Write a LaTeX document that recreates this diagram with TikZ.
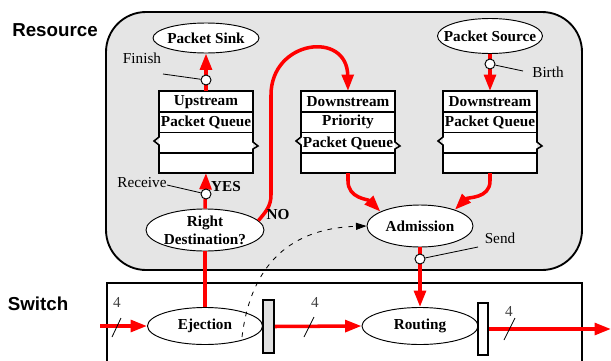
\documentclass[tikz,border=0pt]{standalone}
\usepackage{fontspec}
\setmainfont{Liberation Serif}
\newfontfamily\partfont{Liberation Sans}
\usepackage{tikz}
\usetikzlibrary{shapes.geometric,arrows.meta}

% packet queue: name, x centre, row 1, row 2, row 3
\newcommand{\pktqueue}[5]{%
  \node[qframe] (#1) at (#2,132) {};
  \draw[qline, fill=white] (#2-47,91) rectangle (#2+47,133);
  \draw[qline] (#2-47,112) -- (#2+47,112);
  \fill[white] (#2-47,133) rectangle (#2+47,153);
  \draw[qline] (#2-47,133) -- (#2-47,137) -- (#2-52,141) -- (#2-47,145) -- (#2-47,153);
  \draw[qline] (#2+47,133) -- (#2+47,142) -- (#2+52,146) -- (#2+47,149) -- (#2+47,153);
  \draw[qline, fill=white] (#2-47,153) rectangle (#2+47,173);
  \node[qtext] (#1a) at (#2,102) {#3};
  \node[qtext] (#1b) at (#2,122) {#4};
  \node[qtext] (#1c) at (#2,143) {#5};
}

\begin{document}
\begin{tikzpicture}[x=0.03cm, y=-0.03cm,
    every node/.style={font=\fontsize{13}{15.5}\selectfont, align=center},
    oval/.style={ellipse, draw, fill=white, line width=0.8pt, inner sep=0pt},
    otext/.style={font=\fontsize{13}{15.5}\selectfont\bfseries, align=center, inner sep=0pt},
    qframe/.style={rectangle, minimum width=2.82cm, minimum height=2.46cm,
                   inner sep=0pt, outer sep=0pt},
    qline/.style={line width=1.3pt},
    qtext/.style={font=\fontsize{13}{15.5}\selectfont\bfseries, inner sep=0pt},
    port/.style={circle, draw, fill=white, line width=0.8pt, minimum size=0.3cm, inner sep=0pt},
    gate/.style={rectangle, draw, line width=1.5pt, inner sep=0pt},
    part/.style={font=\partfont\bfseries\fontsize{16}{19}\selectfont},
    num/.style={text=black!75, inner sep=0pt},
    flow/.style={red, line width=3pt, -{Triangle[length=14pt,width=10pt]}},
    wire/.style={red, line width=3pt},
    hint/.style={line width=0.7pt},
    cue/.style={line width=0.7pt, dash pattern=on 4pt off 5pt,
                -{Triangle[length=9pt,width=6pt]}}
]
\useasboundingbox (0,0) rectangle (611,360);

% frames
\draw[line width=1.6pt, fill=black!10, rounded corners=1.2cm] (106,12) rectangle (582,270);
\draw[line width=2pt] (107,283) rectangle (582,400);
\node[part] (res) at (55,30) {Resource};
\node[part] (sw) at (38,304) {Switch};

% resource side
\node[oval, minimum width=3.18cm, minimum height=0.9cm,
      label={[otext]center:Packet Sink}] (sink) at (206,38) {};
\node[oval, minimum width=3.15cm, minimum height=1.05cm,
      label={[otext]center:Packet Source}] (src) at (490,36) {};
\pktqueue{upq}{206}{Upstream}{Packet Queue}{}
\pktqueue{qpri}{348}{Downstream}{Priority}{Packet Queue}
\pktqueue{dnq}{490}{Downstream}{Packet Queue}{}
\node[oval, minimum width=3.54cm, minimum height=1.26cm,
      label={[otext]center:Right\\Destination?}] (rd) at (205,230) {};
\node[oval, minimum width=3.18cm, minimum height=1.26cm,
      label={[otext]center:Admission}] (adm) at (420,226) {};

% switch side
\node[oval, minimum width=3.45cm, minimum height=1.11cm,
      label={[otext]center:Ejection}] (ej) at (205,326) {};
\node[oval, minimum width=3.48cm, minimum height=1.11cm,
      label={[otext]center:Routing}] (rt) at (420,326) {};
\node[gate, fill=black!12, minimum width=0.33cm, minimum height=1.59cm] (bar1) at (268.5,326.5) {};
\node[gate, fill=white, minimum width=0.3cm, minimum height=1.56cm] (bar2) at (483,329) {};
\coordinate (inp) at (100,326);
\coordinate (outp) at (611,329);

% packet flows
\draw[flow] (upq.north) -- (sink.south);
\draw[flow] (src.south) -- (dnq.north);
\draw[flow] (rd.north) -- (upq.south);
\draw[flow] (rd.10) to[out=50,in=-90] (271,195) -- (271,95)
    .. controls (271,40) and (347,30) .. (qpri.north);
\draw[flow] (qpri.south) -- ++(0,8) to[out=-90,in=135] (adm.160);
\draw[flow] (dnq.south) -- ++(0,8) to[out=-90,in=45] (adm.25);
\draw[flow] (adm.south) -- (rt.north);
\draw[wire] (rd.south) -- (ej.north);
\draw[flow] (inp) -- (ej.west);
\draw[flow] (bar1.east) -- (rt.west);
\draw[flow] (bar2.east) -- (outp);

% hint from ejection to admission
\coordinate (dst) at (242,337);
\draw[cue] (dst) .. controls (252,255) and (300,228) .. (adm.west);

% event ports
\node[port] (fin) at (206,80) {};
\node[port] (rcv) at (206,194) {};
\node[port] (birth) at (490,64) {};
\node[port] (snd) at (420,259) {};
\coordinate (finc) at (163,74);
\coordinate (rcvc) at (167,185);
\coordinate (birthc) at (523,71);
\coordinate (sndc) at (478,247);
\draw[hint] (fin) -- (finc);
\draw[hint] (rcv) -- (rcvc);
\draw[hint] (birth) -- (birthc);
\draw[hint] (snd) -- (sndc);
\node (lfin) at (142,58) {Finish};
\node (lrcv) at (142,183) {Receive};
\node (lbirth) at (548,72) {Birth};
\node (lsnd) at (500,238) {Send};
\node[otext] (lyes) at (226,187) {YES};
\node[otext] (lno) at (278,215) {NO};

% link widths
\draw[hint] (112,337) -- (121,318);
\draw[hint] (304,337) -- (314,317);
\draw[hint] (504,340) -- (515,318);
\node[num] (w1) at (117,302) {4};
\node[num] (w2) at (315,302) {4};
\node[num] (w3) at (509,311) {4};

\end{tikzpicture}
\end{document}
